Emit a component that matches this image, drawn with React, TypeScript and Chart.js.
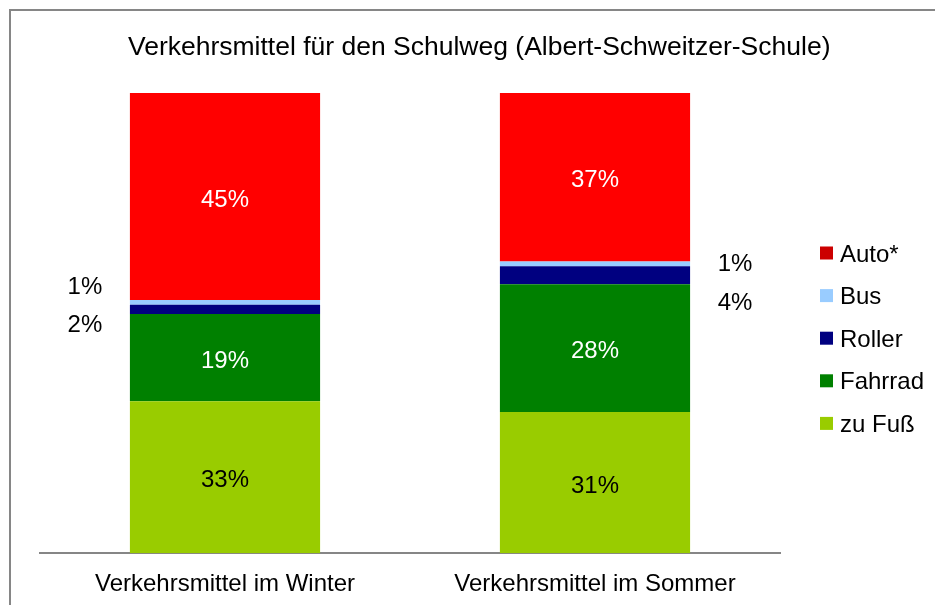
import React, { useEffect, useRef } from "react";
import { Chart, registerables } from "chart.js";

Chart.register(...registerables);

const TITLE = "Verkehrsmittel für den Schulweg (Albert-Schweitzer-Schule)";
const categories = ["Verkehrsmittel im Winter", "Verkehrsmittel im Sommer"];
// stacking order bottom -> top
const seriesNames = ["zu Fuß", "Fahrrad", "Roller", "Bus", "Auto*"];
const zuFuss = [33, 31];
const fahrrad = [19, 28];
const roller = [2, 4];
const bus = [1, 1];
const auto = [45, 37];
const barColors = ["#99CC00", "#008000", "#000080", "#99CCFF", "#FF0000"];
const legendColors = ["#99CC00", "#008000", "#000080", "#99CCFF", "#CC0000"];
const labelColors = ["#000000", "#FFFFFF", "#000000", "#000000", "#FFFFFF"];
const outsideSeries = [2, 3]; // Roller, Bus labelled outside the bar

const FONT = "'Liberation Sans', Arial, sans-serif";

const W = 927;
const H = 597;

export default function App() {
  const ref = useRef<HTMLCanvasElement | null>(null);

  useEffect(() => {
    const canvas = ref.current;
    if (!canvas) return;
    const raw = [zuFuss, fahrrad, roller, bus, auto];
    const totals = categories.map((_, j) => raw.reduce((s, arr) => s + arr[j], 0));

    const overlay = {
      id: "overlay",
      afterDatasetsDraw(chart: any) {
        const ctx = chart.ctx as CanvasRenderingContext2D;
        ctx.save();
        // Title
        ctx.font = `26.5px ${FONT}`;
        ctx.fillStyle = "#000";
        ctx.textAlign = "center";
        ctx.textBaseline = "alphabetic";
        ctx.fillText(TITLE, 471.2, 46.5);

        // Data labels
        ctx.font = `24px ${FONT}`;
        raw.forEach((arr, i) => {
          const meta = chart.getDatasetMeta(i);
          meta.data.forEach((el: any, j: number) => {
            const text = arr[j] + "%";
            const cy = (el.y + el.base) / 2;
            ctx.textAlign = "center";
            if (outsideSeries.includes(i)) {
              ctx.fillStyle = "#000";
              const side = j === 0 ? -1 : 1;
              const x = el.x + side * (el.width / 2 + 45);
              let dy = 0;
              if (j === 0) dy = i === 3 ? -17 : 14.5;
              else dy = i === 3 ? -1.4 : 26.3;
              ctx.fillText(text, x, cy + dy + 8.6);
            } else {
              ctx.fillStyle = labelColors[i];
              ctx.fillText(text, el.x, cy + 10);
            }
          });
        });

        // Legend (top -> bottom is reverse of stacking)
        const order = [4, 3, 2, 1, 0];
        ctx.textAlign = "left";
        order.forEach((i, k) => {
          const yc = 245 + k * 42.6;
          ctx.fillStyle = legendColors[i];
          ctx.fillRect(812, yc - 6.5, 13, 13);
          ctx.fillStyle = "#000";
          ctx.fillText(seriesNames[i], 832, yc + 8.6);
        });
        ctx.restore();
      },
    };

    const chart = new Chart(canvas, {
      type: "bar",
      data: {
        labels: categories,
        datasets: raw.map((arr, i) => ({
          label: seriesNames[i],
          data: arr.map((v, j) => (v / totals[j]) * 100),
          backgroundColor: barColors[i],
          borderWidth: 0,
          barPercentage: 0.514,
          categoryPercentage: 1,
        })),
      },
      options: {
        responsive: false,
        animation: false,
        devicePixelRatio: 1,
        layout: { padding: { left: 32, right: 155, top: 85, bottom: -11 } },
        plugins: {
          legend: { display: false },
          title: { display: false },
          tooltip: { enabled: false },
        },
        scales: {
          x: {
            stacked: true,
            grid: { display: false, drawTicks: false },
            border: { display: true, color: "#868686", width: 2 },
            ticks: {
              color: "#000",
              padding: 17,
              font: { family: FONT, size: 24 },
            },
          },
          y: {
            stacked: true,
            display: false,
            min: 0,
            max: 100,
          },
        },
      },
      plugins: [overlay],
    });
    return () => chart.destroy();
  }, []);

  return (
    <div
      style={{
        position: "fixed",
        left: 8,
        top: 8,
        width: W,
        height: H,
        overflow: "hidden",
      }}
    >
      <div
        style={{
          position: "absolute",
          left: 1,
          top: 1,
          width: W + 20,
          height: H + 20,
          border: "2px solid #868686",
          boxSizing: "border-box",
        }}
      />
      <canvas
        ref={ref}
        width={W}
        height={H}
        style={{ position: "absolute", left: 0, top: 0, width: W, height: H }}
      />
    </div>
  );
}
